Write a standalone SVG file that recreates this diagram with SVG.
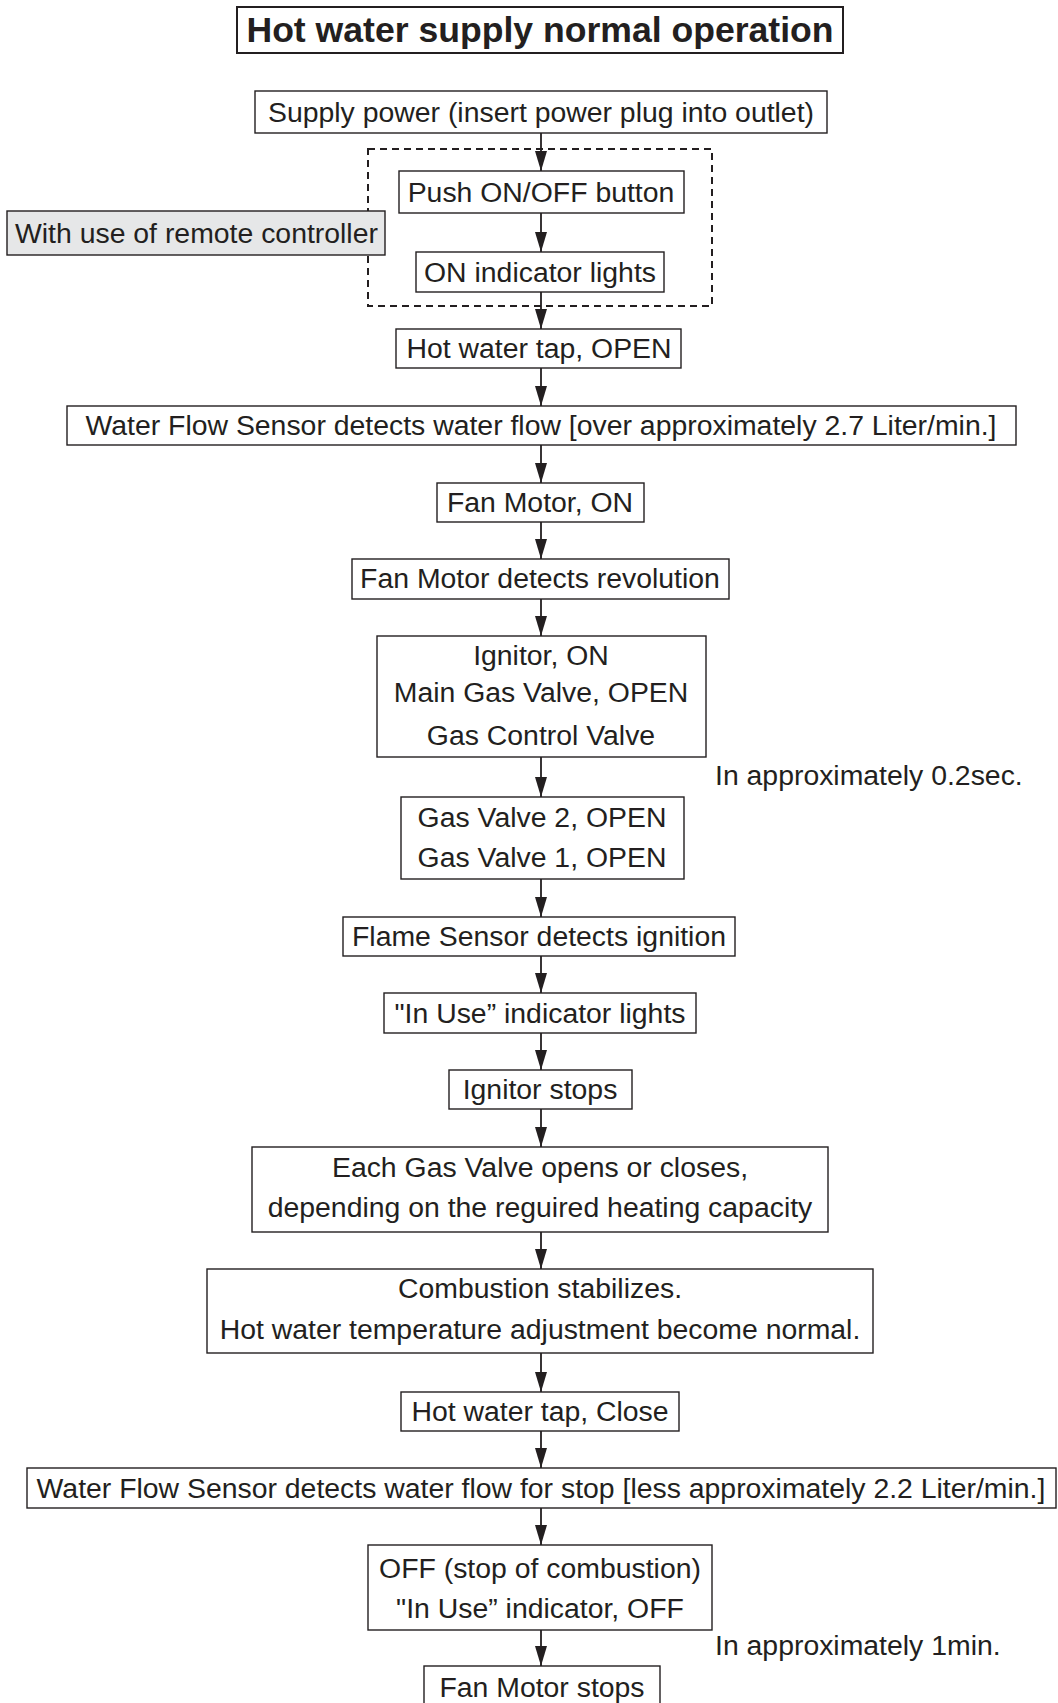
<svg xmlns="http://www.w3.org/2000/svg" width="1058" height="1703" viewBox="0 0 1058 1703">
<style>
  .box{fill:#ffffff;stroke:#231f20;stroke-width:1.4}
  .gray{fill:#e6e7e8;stroke:#231f20;stroke-width:1.4}
  .title{fill:#ffffff;stroke:#231f20;stroke-width:2}
  .dash{fill:none;stroke:#231f20;stroke-width:2;stroke-dasharray:7 5}
  text{font-family:"Liberation Sans",Arial,sans-serif;font-size:28.4px;fill:#231f20}
  .c{text-anchor:middle}
  .tt{font-size:35.6px;font-weight:bold}
  .conn line{stroke:#231f20;stroke-width:1.8;marker-end:url(#ah)}
</style>
<defs>
  <marker id="ah" markerUnits="userSpaceOnUse" markerWidth="20" markerHeight="12" refX="20" refY="6" orient="auto" viewBox="0 0 20 12">
    <path d="M0,0 L20,6 L0,12 z" fill="#231f20"/>
  </marker>
</defs>
<rect width="1058" height="1703" fill="#ffffff"/>

<g id="title">
  <rect class="title" x="237" y="7" width="606" height="46"/>
  <text class="c tt" x="540" y="42">Hot water supply normal operation</text>
</g>

<g id="remote-group">
  <rect class="dash" x="368" y="149" width="344" height="157"/>
</g>

<g id="connectors" class="conn">
  <line x1="541" y1="133" x2="541" y2="171"/>
  <line x1="541" y1="213" x2="541" y2="252"/>
  <line x1="541" y1="292" x2="541" y2="329"/>
  <line x1="541" y1="368" x2="541" y2="406"/>
  <line x1="541" y1="445" x2="541" y2="483"/>
  <line x1="541" y1="522" x2="541" y2="559"/>
  <line x1="541" y1="599" x2="541" y2="636"/>
  <line x1="541" y1="757" x2="541" y2="797"/>
  <line x1="541" y1="879" x2="541" y2="917"/>
  <line x1="541" y1="956" x2="541" y2="993"/>
  <line x1="541" y1="1033" x2="541" y2="1070"/>
  <line x1="541" y1="1109" x2="541" y2="1147"/>
  <line x1="541" y1="1232" x2="541" y2="1269"/>
  <line x1="541" y1="1353" x2="541" y2="1392"/>
  <line x1="541" y1="1431" x2="541" y2="1468"/>
  <line x1="541" y1="1508" x2="541" y2="1545"/>
  <line x1="541" y1="1630" x2="541" y2="1666"/>
</g>

<g id="supply">
  <rect class="box" x="255" y="91" width="572" height="42"/>
  <text class="c" x="541" y="122">Supply power (insert power plug into outlet)</text>
</g>

<g id="push">
  <rect class="box" x="399" y="171" width="285" height="42"/>
  <text class="c" x="541" y="202">Push ON/OFF button</text>
</g>

<g id="remote">
  <rect class="gray" x="7" y="211" width="378" height="44"/>
  <text x="15" y="243">With use of remote controller</text>
</g>

<g id="on-indicator">
  <rect class="box" x="416" y="252" width="248" height="40"/>
  <text class="c" x="540" y="282">ON indicator lights</text>
</g>

<g id="tap-open">
  <rect class="box" x="396" y="329" width="285" height="39"/>
  <text class="c" x="539" y="358">Hot water tap, OPEN</text>
</g>

<g id="flow-on">
  <rect class="box" x="67" y="406" width="949" height="39"/>
  <text class="c" x="541" y="435">Water Flow Sensor detects water flow [over approximately 2.7 Liter/min.]</text>
</g>

<g id="fan-on">
  <rect class="box" x="437" y="483" width="207" height="39"/>
  <text class="c" x="540" y="512">Fan Motor, ON</text>
</g>

<g id="fan-rev">
  <rect class="box" x="352" y="559" width="377" height="40"/>
  <text class="c" x="540" y="588">Fan Motor detects revolution</text>
</g>

<g id="ignitor-on">
  <rect class="box" x="377" y="636" width="329" height="121"/>
  <text class="c" x="541" y="665">Ignitor, ON</text>
  <text class="c" x="541" y="702">Main Gas Valve, OPEN</text>
  <text class="c" x="541" y="745">Gas Control Valve</text>
</g>

<g id="label-02">
  <text x="715" y="785">In approximately 0.2sec.</text>
</g>

<g id="gas-valves">
  <rect class="box" x="401" y="797" width="283" height="82"/>
  <text class="c" x="542" y="827">Gas Valve 2, OPEN</text>
  <text class="c" x="542" y="867">Gas Valve 1, OPEN</text>
</g>

<g id="flame">
  <rect class="box" x="343" y="917" width="392" height="39"/>
  <text class="c" x="539" y="946">Flame Sensor detects ignition</text>
</g>

<g id="in-use">
  <rect class="box" x="384" y="993" width="312" height="40"/>
  <text class="c" x="540" y="1023">"In Use” indicator lights</text>
</g>

<g id="ignitor-stops">
  <rect class="box" x="449" y="1070" width="183" height="39"/>
  <text class="c" x="540" y="1099">Ignitor stops</text>
</g>

<g id="each-valve">
  <rect class="box" x="252" y="1147" width="576" height="85"/>
  <text class="c" x="540" y="1177">Each Gas Valve opens or closes,</text>
  <text class="c" x="540" y="1217">depending on the reguired heating capacity</text>
</g>

<g id="combustion">
  <rect class="box" x="207" y="1269" width="666" height="84"/>
  <text class="c" x="540" y="1298">Combustion stabilizes.</text>
  <text class="c" x="540" y="1339">Hot water temperature adjustment become normal.</text>
</g>

<g id="tap-close">
  <rect class="box" x="401" y="1392" width="278" height="39"/>
  <text class="c" x="540" y="1421">Hot water tap, Close</text>
</g>

<g id="flow-off">
  <rect class="box" x="27" y="1468" width="1029" height="40"/>
  <text class="c" x="541" y="1498">Water Flow Sensor detects water flow for stop [less approximately 2.2 Liter/min.]</text>
</g>

<g id="off">
  <rect class="box" x="368" y="1545" width="344" height="85"/>
  <text class="c" x="540" y="1578">OFF (stop of combustion)</text>
  <text class="c" x="540" y="1618">"In Use” indicator, OFF</text>
</g>

<g id="label-1min">
  <text x="715" y="1655">In approximately 1min.</text>
</g>

<g id="fan-stops">
  <rect class="box" x="424" y="1666" width="236" height="50"/>
  <text class="c" x="542" y="1697">Fan Motor stops</text>
</g>
</svg>
